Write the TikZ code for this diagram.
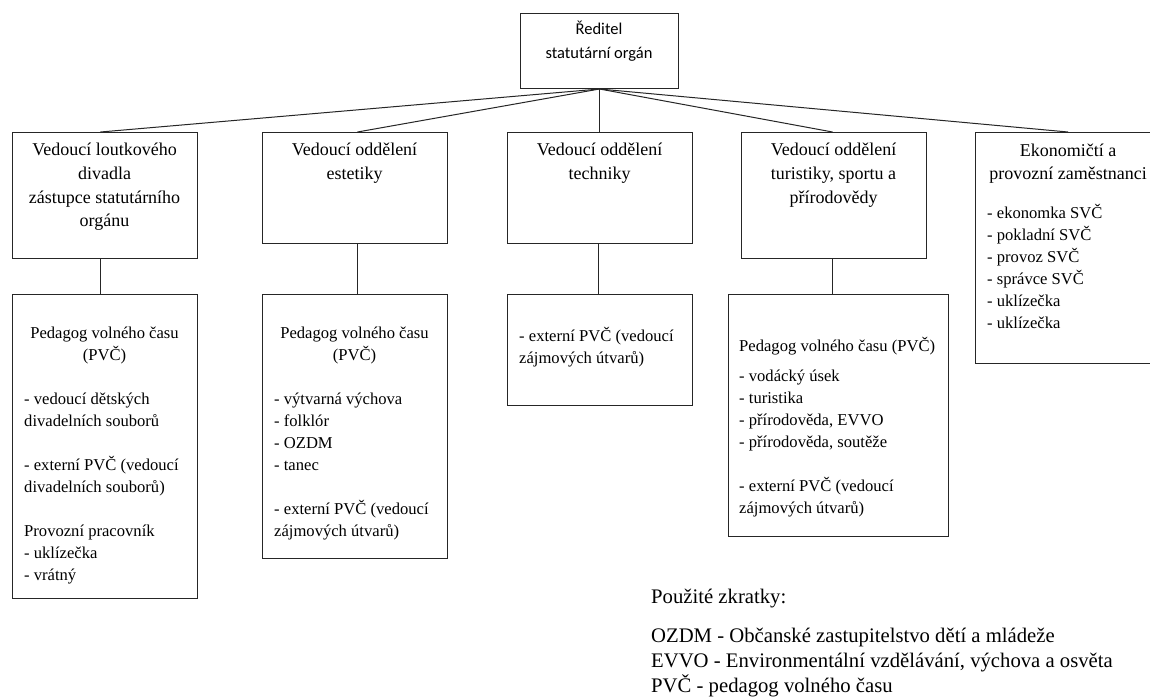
\documentclass[tikz,border=0pt]{standalone}
\usepackage{fontspec}
\setmainfont{Liberation Serif}
\newfontfamily\calib{Carlito}
\begin{document}
\begin{tikzpicture}[x=1pt,y=-1pt,
  box/.style={draw=black!85,line width=1,inner sep=0,anchor=north west,fill=none},
  conn/.style={draw=black!85,line width=1},
  topt/.style={font=\calib\fontsize{16.5}{24}\selectfont,align=center,anchor=north,inner sep=0,execute at begin node=\strut},
  hd/.style={font=\fontsize{18}{23.7}\selectfont,align=center,anchor=north,inner sep=0,execute at begin node=\strut},
  bdc/.style={font=\fontsize{16.6}{22}\selectfont,align=center,anchor=north,inner sep=0,execute at begin node=\strut},
  bdl/.style={font=\fontsize{16.6}{22}\selectfont,align=left,anchor=north west,inner sep=0,execute at begin node=\strut},
  lgd/.style={font=\fontsize{20.7}{25}\selectfont,align=left,inner sep=0}]
\useasboundingbox (0,0) rectangle (1150,698);
\fill[white] (0,0) rectangle (1150,698);
% boxes
\node[box,minimum width=158,minimum height=75] (top) at (520,13) {};
\node[box,minimum width=185,minimum height=126] (b1) at (12,132) {};
\node[box,minimum width=185,minimum height=111] (b2) at (262,132) {};
\node[box,minimum width=185,minimum height=111] (b3) at (507,132) {};
\node[box,minimum width=185,minimum height=126] (b4) at (741,132) {};
\node[box,minimum width=185,minimum height=231] (b5) at (975,132) {};
\node[box,minimum width=185,minimum height=304] (p1) at (12,294) {};
\node[box,minimum width=185,minimum height=264] (p2) at (262,294) {};
\node[box,minimum width=185,minimum height=111] (p3) at (507,294) {};
\node[box,minimum width=220,minimum height=242] (p4) at (728,294) {};
% connectors
\draw[conn] (top.south) -- ([xshift=-4.5]b1.north);
\draw[conn] (top.south) -- ([xshift=2.5]b2.north);
\draw[conn] (top.south) -- (top.south |- b3.north);
\draw[conn] (top.south) -- ([xshift=-1.5]b4.north);
\draw[conn] (top.south) -- (b5.north);
\draw[conn] ([xshift=-4.5]b1.south) -- ([xshift=-4.5]b1.south |- p1.north);
\draw[conn] ([xshift=2.5]b2.south) -- ([xshift=2.5]b2.south |- p2.north);
\draw[conn] ([xshift=-1.5]b3.south) -- ([xshift=-1.5]b3.south |- p3.north);
\draw[conn] ([xshift=-1.5]b4.south) -- ([xshift=-1.5]b4.south |- p4.north);
% texts
\node[topt] (toptx) at (599,21.2) {Ředitel\\statutární orgán};
\node[hd] (h1) at (104.5,143) {Vedoucí loutkového\\divadla\\zástupce statutárního\\orgánu};
\node[hd] (h2) at (354.5,143) {Vedoucí oddělení\\estetiky};
\node[hd] (h3) at (599.5,143) {Vedoucí oddělení\\techniky};
\node[hd] (h4) at (833.5,143) {Vedoucí oddělení\\turistiky, sportu a\\přírodovědy};
\node[hd] (h5) at (1068,143.5) {Ekonomičtí a\\provozní zaměstnanci};
\node[bdl] (l5) at (987,204) {- ekonomka SVČ\\- pokladní SVČ\\- provoz SVČ\\- správce SVČ\\- uklízečka\\- uklízečka};
\node[bdc] (c1) at (104.5,327) {Pedagog volného času\\(PVČ)};
\node[bdl] (l1) at (24,393) {- vedoucí dětských\\divadelních souborů\\[22pt]- externí PVČ (vedoucí\\divadelních souborů)\\[22pt]Provozní pracovník\\- uklízečka\\- vrátný};
\node[bdc] (c2) at (354.5,327) {Pedagog volného času\\(PVČ)};
\node[bdl] (l2) at (274,393) {- výtvarná výchova\\- folklór\\- OZDM\\- tanec\\[22pt]- externí PVČ (vedoucí\\zájmových útvarů)};
\node[bdl] (l3) at (519,327) {- externí PVČ (vedoucí\\zájmových útvarů)};
\node[bdl] (c4) at (739,336) {Pedagog volného času (PVČ)};
\node[bdl] (l4) at (739,370) {- vodácký úsek\\- turistika\\- přírodověda, EVVO\\- přírodověda, soutěže\\[22pt]- externí PVČ (vedoucí\\zájmových útvarů)};
% legend
\node[lgd,anchor=base west] (lg) at (651,603.5) {Použité zkratky:};
\node[lgd,anchor=north west,execute at begin node=\strut] (lgl) at (651,627.5) {OZDM - Občanské zastupitelstvo dětí a mládeže\\EVVO - Environmentální vzdělávání, výchova a osvěta\\PVČ - pedagog volného času};
\end{tikzpicture}
\end{document}
